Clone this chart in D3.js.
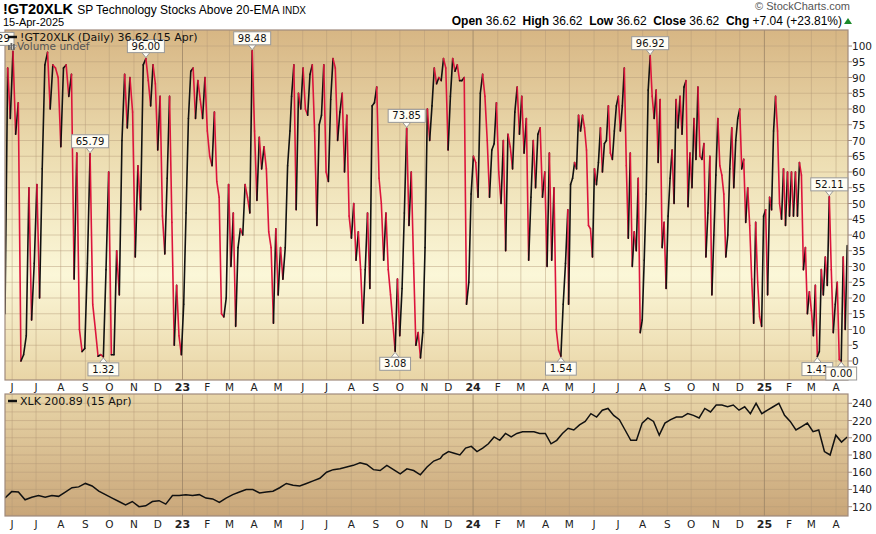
<!DOCTYPE html>
<html><head><meta charset="utf-8">
<script src="https://cdn.jsdelivr.net/npm/d3@7"></script>
<style>body{margin:0;background:#fff}svg{display:block}</style>
</head><body><svg id="c" width="876" height="534"></svg>
<script>
// ---------- DATA ----------
const gtPart1a = [15,93,77,98.29,72,82,0,2,8,55,13,31,56,20,61,94,98,80,94,93,90,68,93,94,84,91,26,66,10,3,4,31,65.79,18,10,1.5,2,1.32,29,60,2,2,35,21,70,91,74,90,79,33,62,48,94,96];
const gtPart1aRange = ["2022-05-23","2022-11-16"];
const gtPart1b = [89,81,94,88,67,84,46,34,58,84,44,5,24,8,2,18,47,77,92,93,77,89,83,77,90,73,65,62,79,57,52,15,14,20,56,30,47,11,36,42,40,56,52,47,98.48,73,51,71,61,68,61,41,36,12,42,21,36,26,36,62,73];
const gtPart1bRange = ["2022-11-19","2023-05-16"];
const gtPart2 = [84,94,48,85,80,93,80,78,91,94,73,43,75,78,94,60,57,83,96,93,70,79,85,60,78,46,39,50,32,41,29,12,29,47,23,81,82,87,58,50,32,47,29,21,12,3.08,26,8,23,47,73.85,43,60,31,5,9,1,9,36,80,70,81,93,88,90,89,96,93,67,84,96,92,94,89,89,90,18,25,53,65,63,52,85,91,84,70,52,67,69,82,60,50,70,35,72,68,61,79,87,72,84,66,77,32,52,70,55,72,74,52,60,30,66,32,55,10,3.5,1.54,18,31,48];
const gtPart2Range = ["2023-05-18","2024-04-29"];
const gtPart3 = [18,56,58,63,61,78,73,78,74,67,43,42,33,61,56,63,74,60,69,70,81,66,64,73,81,84,73,81,93,62,39,66,30,41,35,58,9,13,32,53,86,96.92,84,77,86,63,83,36,44,23,46,58,67,50,83,74,84,72,87,89,49,66,55,77,64,87,65,64,69,33,47,65,21,40,59,77,62,59,53,33,40,61,74,55,70,77,80,61,64,44,55,43,26,12,44,25,14,11,46,48,21,52,48,73,84,73,50,45,61,43,60,46,60,46,60,46,63,59,29,36,15,22,16,8,24,1.41,3,29,21,33,24,52.11,29,9,18,25,0.5,0,33,10,36.62];
const gtPart3Range = ["2024-04-30","2025-04-15"];

const xlkPartA = [130,137.5,137,128,131,133,131,133,132,137,142,143,147,144,138,134,130,126,122,126,120,121,126,127,123,133,133,134,133,134,130,129,125,130,134,137,140,140,136,137,138,142,147,145,144,147,150,153,160,163,164,166,168,171,169,163,162,168,163,158,164,162,157,166,173,176];
const xlkPartARange = ["2022-05-23","2023-11-21"];
const xlkPartB = [180,184,182,180,188,190,184,188,193,201,197,205,201,205,207,207,207,205,205,193,197,205,211,209,215,219,228,224,232,234,226,221,209,197,197,217,223,219,203,217,221,224,224,228,226,223,234,230,238,238,236,238,232,236,228,240,228,232,236,240,226,219,209,213,217,207,209,184,180,203,195,200.89];
const xlkPartBRange = ["2023-11-24","2025-04-15"];

const annotations = [
  {date:"2022-06-01", value:98.29, text:"98.29", pos:"above"},
  {date:"2022-09-10", value:65.79, text:"65.79", pos:"above"},
  {date:"2022-09-28", value:1.32, text:"1.32", pos:"below"},
  {date:"2022-11-16", value:96.00, text:"96.00", pos:"above"},
  {date:"2023-03-31", value:98.48, text:"98.48", pos:"above"},
  {date:"2023-09-25", value:3.08, text:"3.08", pos:"below"},
  {date:"2023-10-11", value:73.85, text:"73.85", pos:"above"},
  {date:"2024-04-20", value:1.54, text:"1.54", pos:"below"},
  {date:"2024-08-17", value:96.92, text:"96.92", pos:"above"},
  {date:"2025-03-10", value:1.41, text:"1.41", pos:"below"},
  {date:"2025-03-22", value:52.11, text:"52.11", pos:"above"},
  {date:"2025-04-06", value:0.00, text:"0.00", pos:"below"}
];
const gtTicks = d3.range(0,101,5);
const xlkTicks = [120,140,160,180,200,220,240];

// ---------- HELPERS ----------
const P = d3.timeParse("%Y-%m-%d");
function spread(vals, range){
  const a=P(range[0]).getTime(), b=P(range[1]).getTime(), n=vals.length;
  return vals.map((v,i)=>({d:new Date(a+(b-a)*i/(n-1)), v}));
}
const gt = [...spread(gtPart1a,gtPart1aRange),...spread(gtPart1b,gtPart1bRange),...spread(gtPart2,gtPart2Range),...spread(gtPart3,gtPart3Range)];
const xlk = [...spread(xlkPartA,xlkPartARange),...spread(xlkPartB,xlkPartBRange)];

const svg = d3.select("#c");
const L=5, R=848;
const x = d3.scaleTime().domain([P("2022-05-23"),P("2025-04-16")]).range([L,R]);
const T1=30,B1=380,T2=394,B2=516;
const y1 = d3.scaleLinear().domain([0,100]).range([361,46]);
const y2 = d3.scaleLinear().domain([120,240]).range([506.7,403.3]);

const defs=svg.append("defs");
const g1=defs.append("linearGradient").attr("id","g1").attr("x1",0).attr("x2",0).attr("y1",0).attr("y2",1);
[[0,"#d7b684"],[0.35,"#ecdcb0"],[0.7,"#fbf7d8"],[1,"#e9d5a6"]].forEach(s=>g1.append("stop").attr("offset",s[0]).attr("stop-color",s[1]));
const g2=defs.append("linearGradient").attr("id","g2").attr("x1",0).attr("x2",0).attr("y1",0).attr("y2",1);
[[0,"#e8d5a8"],[1,"#c9a679"]].forEach(s=>g2.append("stop").attr("offset",s[0]).attr("stop-color",s[1]));
defs.append("clipPath").attr("id","cp1").append("rect").attr("x",L).attr("y",T1).attr("width",R-L).attr("height",B1-T1);
defs.append("clipPath").attr("id","cp2").append("rect").attr("x",L).attr("y",T2).attr("width",R-L).attr("height",B2-T2);

svg.append("rect").attr("x",L).attr("y",T1).attr("width",R-L).attr("height",B1-T1).attr("fill","url(#g1)");
svg.append("rect").attr("x",L).attr("y",T2).attr("width",R-L).attr("height",B2-T2).attr("fill","url(#g2)");

const months = d3.timeMonth.range(P("2022-06-01"),P("2025-04-16"));
function grid(top,bot,yTicksAll,ys){
  const g=svg.append("g");
  yTicksAll.forEach(t=>g.append("line").attr("x1",L).attr("x2",R).attr("y1",ys(t)).attr("y2",ys(t)).attr("stroke","#b39a78").attr("stroke-opacity",0.45).attr("stroke-width",1));
  months.forEach(m=>g.append("line").attr("x1",x(m)).attr("x2",x(m)).attr("y1",top).attr("y2",bot)
    .attr("stroke",m.getMonth()===0?"#9c8466":"#b39a78").attr("stroke-opacity",m.getMonth()===0?0.8:0.45));
}
grid(T1,B1,gtTicks,y1);
grid(T2,B2,d3.range(110,250,10),y2);

const gl=svg.append("g").attr("clip-path","url(#cp1)");
for(let i=0;i<gt.length-1;i++){
  const a=gt[i],b=gt[i+1];
  gl.append("line").attr("x1",x(a.d)).attr("y1",y1(a.v)).attr("x2",x(b.d)).attr("y2",y1(b.v))
    .attr("stroke",b.v<a.v?"#dc143c":"#111").attr("stroke-width",1.6).attr("stroke-linecap","round");
}
svg.append("path").datum(xlk).attr("clip-path","url(#cp2)")
  .attr("d",d3.line().x(d=>x(d.d)).y(d=>y2(d.v))).attr("fill","none").attr("stroke","#111").attr("stroke-width",1.5);

[[T1,B1],[T2,B2]].forEach(([t,b])=>svg.append("rect").attr("x",L).attr("y",t).attr("width",R-L).attr("height",b-t).attr("fill","none").attr("stroke","#a08a7c").attr("stroke-width",1.2));

function rAxis(ticks,ys){
  const g=svg.append("g");
  ticks.forEach(t=>{
    g.append("line").attr("x1",R).attr("x2",R+4).attr("y1",ys(t)).attr("y2",ys(t)).attr("stroke","#a08a7c");
    g.append("text").attr("x",R+4).attr("y",ys(t)+4).text(t).attr("font-family","DejaVu Sans, Verdana").attr("font-size",10.5).attr("fill","#222");
  });
}
rAxis(gtTicks,y1); rAxis(xlkTicks,y2);

function mAxis(yy){
  months.forEach(m=>{
    const yr=m.getMonth()===0;
    svg.append("text").attr("x",x(m)).attr("y",yy).attr("text-anchor","middle")
      .attr("font-family","DejaVu Sans, Verdana").attr("font-size",yr?11:10.5).attr("font-weight",yr?"bold":"normal").attr("fill","#222")
      .text(yr?d3.timeFormat("%y")(m):d3.timeFormat("%B")(m)[0]);
  });
}
mAxis(391); mAxis(528);

const ag=svg.append("g");
annotations.forEach(a=>{
  const ad=P(a.date).getTime();
  let best=null,bd=1e18;
  gt.forEach(p=>{const dd=Math.abs(p.d-ad)/864e5; if(dd<25){const s=Math.abs(p.v-a.value)*100+dd; if(s<bd){bd=s;best=p;}}});
  const px=x(best.d), py=y1(best.v);
  const w=a.text.length*6.2+6, h=13;
  let bx=px-w/2; if(px<20) bx=px-w+1;
  const up=a.pos==="above";
  const by= up? py-h-6 : py+6;
  ag.append("path").attr("d", up? `M${px-4},${by+h}L${px},${py-1}L${px+4},${by+h}Z` : `M${px-4},${by}L${px},${py+1}L${px+4},${by}Z`).attr("fill","#fffdf4").attr("stroke","#999");
  ag.append("rect").attr("x",bx).attr("y",by).attr("width",w).attr("height",h).attr("fill","#fffdf4").attr("stroke","#999");
  ag.append("text").attr("x",bx+w/2).attr("y",by+10).attr("text-anchor","middle").attr("font-family","DejaVu Sans, Verdana").attr("font-size",10).attr("fill","#111").text(a.text);
});

svg.append("line").attr("x1",8).attr("x2",17).attr("y1",37).attr("y2",37).attr("stroke","#111").attr("stroke-width",2.5);
svg.append("text").attr("x",20).attr("y",41).attr("font-family","DejaVu Sans, Verdana").attr("font-size",11).attr("fill","#111").text("!GT20XLK (Daily) 36.62 (15 Apr)");
[[8,3],[10.5,5],[13,4]].forEach(b=>svg.append("rect").attr("x",b[0]).attr("y",50-b[1]-2).attr("width",1.8).attr("height",b[1]+2).attr("fill","#666"));
svg.append("text").attr("x",17).attr("y",50).attr("font-family","DejaVu Sans, Verdana").attr("font-size",10.5).attr("fill","#555").text("Volume undef");
svg.append("line").attr("x1",8).attr("x2",17).attr("y1",401).attr("y2",401).attr("stroke","#111").attr("stroke-width",2.5);
svg.append("text").attr("x",20).attr("y",405).attr("font-family","DejaVu Sans, Verdana").attr("font-size",11).attr("fill","#111").text("XLK 200.89 (15 Apr)");

const h=svg.append("text").attr("x",3).attr("y",14).attr("font-family","Liberation Sans, Arial").attr("fill","#000");
h.append("tspan").attr("font-size",14.5).attr("font-weight","bold").text("!GT20XLK ");
h.append("tspan").attr("font-size",12).text("SP Technology Stocks Above 20-EMA ");
h.append("tspan").attr("font-size",10).text(" INDX");
svg.append("text").attr("x",3).attr("y",26).attr("font-family","Liberation Sans, Arial").attr("font-size",11).text("15-Apr-2025");
svg.append("text").attr("x",850).attr("y",10).attr("text-anchor","end").attr("font-family","Liberation Sans, Arial").attr("font-size",11).attr("fill","#555").text("© StockCharts.com");
const q=svg.append("text").attr("x",842).attr("y",25).attr("text-anchor","end").attr("font-family","Liberation Sans, Arial").attr("font-size",12).attr("fill","#000");
[["Open"," 36.62  "],["High"," 36.62  "],["Low"," 36.62  "],["Close"," 36.62  "],["Chg"," +7.04 (+23.81%)"]].forEach(p=>{
  q.append("tspan").attr("font-weight","bold").text(p[0]); q.append("tspan").attr("xml:space","preserve").text(p[1]);
});
svg.append("path").attr("d","M844,24L848,18L852,24Z").attr("fill","#1a8a2a");
</script></body></html>
